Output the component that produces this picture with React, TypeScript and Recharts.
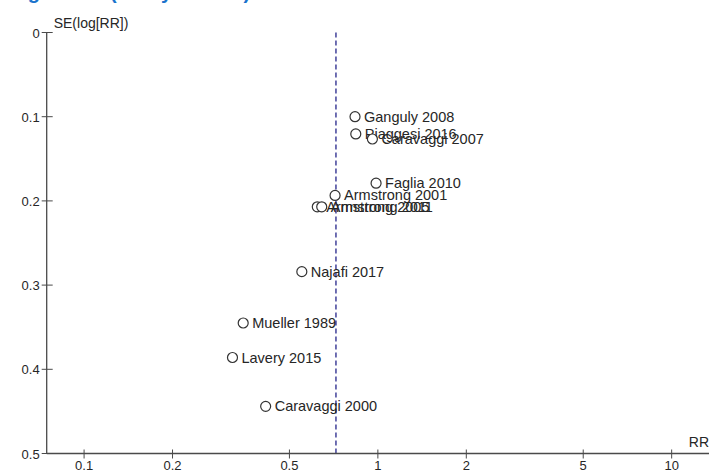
import { ReferenceLine, Scatter, ScatterChart, XAxis, YAxis } from "recharts";

const studies = [
  "Ganguly 2008",
  "Piaggesi 2016",
  "Caravaggi 2007",
  "Faglia 2010",
  "Armstrong 2001",
  "Armstrong 2005",
  "Armstrong 2011",
  "Najafi 2017",
  "Mueller 1989",
  "Lavery 2015",
  "Caravaggi 2000",
];
const riskRatios = [0.836, 0.841, 0.958, 0.986, 0.715, 0.622, 0.644, 0.551, 0.348, 0.32, 0.415];
const standardErrors = [0.1, 0.1205, 0.1265, 0.179, 0.1935, 0.207, 0.207, 0.284, 0.345, 0.386, 0.444];
const pooledRR = 0.72;

const xTicks = [0.1, 0.2, 0.5, 1, 2, 5, 10];
const yTicks = [0, 0.1, 0.2, 0.3, 0.4, 0.5];

const points = studies.map((name, i) => ({ name, rr: riskRatios[i], se: standardErrors[i] }));

const axisColor = "#4a4a4a";
const textColor = "#262626";
const font = "'Liberation Sans', Arial, sans-serif";

function YTick({ x, y, payload }: any) {
  return (
    <g>
      <line x1={x - 5} x2={x + 6} y1={y} y2={y} stroke={axisColor} />
      <text x={x - 7} y={y + 5} textAnchor="end" fontSize={13} fontFamily={font} fill={textColor}>
        {payload.value}
      </text>
    </g>
  );
}

function XTick({ x, y, payload }: any) {
  return (
    <g>
      <line x1={x} x2={x} y1={y - 4} y2={y + 5} stroke={axisColor} />
      <text x={x} y={y + 16} textAnchor="middle" fontSize={13} fontFamily={font} fill={textColor}>
        {payload.value}
      </text>
    </g>
  );
}

function StudyPoint({ cx, cy, payload }: any) {
  return (
    <g>
      <circle cx={cx} cy={cy} r={5} fill="#fff" stroke="#333" strokeWidth={1.2} />
      <text x={cx + 9} y={cy + 5} fontSize={14.5} fontFamily={font} fill={textColor}>
        {payload.name}
      </text>
    </g>
  );
}

export default function App() {
  return (
    <div style={{ position: "absolute", left: 0, top: 0, width: 709, height: 473, background: "#fff", overflow: "hidden" }}>
      <div
        style={{
          position: "absolute",
          left: 10,
          top: -19,
          fontFamily: font,
          fontWeight: "bold",
          fontSize: 20,
          color: "#1a73cc",
          whiteSpace: "nowrap",
        }}
      >
        Figure 4.2 (Study results)
      </div>
      <ScatterChart width={709} height={473} margin={{ top: 32.5, right: 0, bottom: 0, left: 0 }}>
        <XAxis
          type="number"
          dataKey="rr"
          scale="log"
          domain={[0.0746, 13.4]}
          ticks={xTicks}
          interval={0}
          allowDataOverflow
          height={19.5}
          tickSize={0}
          tickMargin={0}
          tickLine={false}
          tick={<XTick />}
          axisLine={{ stroke: axisColor, strokeWidth: 1.3 }}
          label={{
            content: ({ viewBox }: any) => (
              <text
                x={viewBox.x + viewBox.width}
                y={viewBox.y - 7}
                textAnchor="end"
                fontSize={14}
                fontFamily={font}
                fill={textColor}
              >
                RR
              </text>
            ),
          }}
        />
        <YAxis
          type="number"
          dataKey="se"
          reversed
          domain={[0, 0.5]}
          ticks={yTicks}
          interval={0}
          width={46.7}
          tickSize={0}
          tickMargin={0}
          tickLine={false}
          tick={<YTick />}
          axisLine={{ stroke: axisColor, strokeWidth: 1.3 }}
          label={{
            content: ({ viewBox }: any) => (
              <text x={viewBox.x + viewBox.width + 7} y={viewBox.y - 5} fontSize={14} fontFamily={font} fill={textColor}>
                SE(log[RR])
              </text>
            ),
          }}
        />
        <ReferenceLine x={pooledRR} stroke="#23238a" strokeWidth={1.3} strokeDasharray="5 3" />
        <Scatter data={points} shape={<StudyPoint />} isAnimationActive={false} />
      </ScatterChart>
    </div>
  );
}
